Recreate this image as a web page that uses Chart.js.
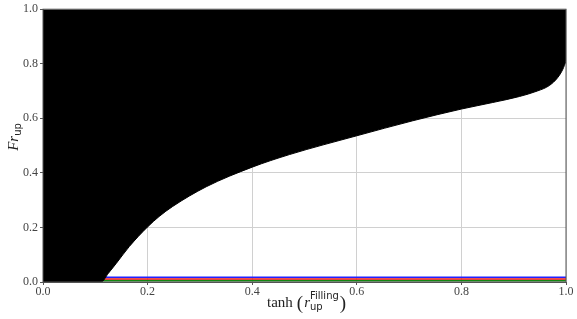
<!DOCTYPE html>
<html>
<head>
<meta charset="utf-8">
<script src="https://cdn.jsdelivr.net/npm/chart.js@4.4.0/dist/chart.umd.min.js"></script>
<style>
html,body{margin:0;padding:0;background:#fff;}
#wrap{width:577px;height:319px;position:relative;}
</style>
</head>
<body>
<div id="wrap"><canvas id="c" width="577" height="319"></canvas></div>
<script>
// Boundary curve (black region lies above it)
const curveX = [0, 0.111, 0.125, 0.14, 0.165, 0.2, 0.222, 0.248, 0.312, 0.4, 0.471, 0.6, 0.707, 0.8, 0.86, 0.911, 0.945, 0.968, 0.984, 0.994, 1.0];
const curveY = [0, 0, 0.032, 0.068, 0.13, 0.202, 0.24, 0.277, 0.349, 0.421, 0.467, 0.536, 0.591, 0.634, 0.658, 0.680, 0.700, 0.720, 0.749, 0.78, 0.81];
// Thin coloured lines near zero
const lineX = [0.111, 1.0];
const blueY = [0.017, 0.017];
const redY = [0.011, 0.011];
const greenY = [0.005, 0.005];
const xTicks = [0.0, 0.2, 0.4, 0.6, 0.8, 1.0];
const yTicks = [0.0, 0.2, 0.4, 0.6, 0.8, 1.0];

const pts = (xs, ys) => xs.map((x, i) => ({x: x, y: ys[i]}));
const SERIF = "'Liberation Serif', 'DejaVu Serif', serif";
const SANS = "'DejaVu Sans', 'Liberation Sans', sans-serif";

const frame = {
  id: 'frame',
  afterDraw(chart) {
    const {ctx, chartArea: a} = chart;
    ctx.save();
    ctx.strokeStyle = '#555';
    ctx.lineWidth = 1;
    ctx.strokeRect(a.left, a.top, a.right - a.left, a.bottom - a.top);
    ctx.restore();
  }
};

function drawRuns(ctx, runs, x, y) {
  let cx = x;
  for (const r of runs) {
    ctx.font = r[1];
    ctx.fillText(r[0], cx, y + r[2]);
    cx += ctx.measureText(r[0]).width + (r[3] || 0);
  }
  return cx - x;
}
function runsWidth(ctx, runs) {
  let w = 0;
  for (const r of runs) { ctx.font = r[1]; w += ctx.measureText(r[0]).width + (r[3] || 0); }
  return w;
}

const titles = {
  id: 'titles',
  afterDraw(chart) {
    const {ctx, chartArea: a} = chart;
    ctx.save();
    ctx.fillStyle = '#222';
    ctx.textBaseline = 'alphabetic';
    // x title
    const xr = [
      ['tanh', '15px ' + SERIF, 0, 4],
      ['(', '19px ' + SERIF, 2, 1],
      ['r', 'italic 15px ' + SERIF, 0, 0],
    ];
    const wx = runsWidth(ctx, xr) + 30 + 8;
    let sx = (a.left + a.right) / 2 - wx / 2 + 3;
    const by = 307;
    const w1 = drawRuns(ctx, xr, sx, by);
    const rx = sx + w1;
    ctx.font = '10px ' + SANS;
    ctx.fillText('Filling', rx, by - 8);
    const wf = ctx.measureText('Filling').width;
    ctx.fillText('up', rx, by + 3);
    ctx.font = '19px ' + SERIF;
    ctx.fillText(')', rx + wf + 1, by + 2);
    // y title
    ctx.translate(18, 137);
    ctx.rotate(-Math.PI / 2);
    const yr = [
      ['Fr', 'italic 15px ' + SERIF, 0, 0],
      ['up', '10px ' + SANS, 3, 0]
    ];
    const wy = runsWidth(ctx, yr);
    drawRuns(ctx, yr, -wy / 2, 0);
    ctx.restore();
  }
};

new Chart(document.getElementById('c'), {
  type: 'scatter',
  data: {
    datasets: [
      {data: pts(curveX, curveY), showLine: true, fill: 'end', backgroundColor: '#000', borderColor: '#000', borderWidth: 1, pointRadius: 0, tension: 0.4, cubicInterpolationMode: 'monotone'},
      {data: pts(lineX, blueY), showLine: true, borderColor: '#2222ff', borderWidth: 1.5, pointRadius: 0, fill: false},
      {data: pts(lineX, redY), showLine: true, borderColor: '#ee1111', borderWidth: 1.5, pointRadius: 0, fill: false},
      {data: pts(lineX, greenY), showLine: true, borderColor: '#118811', borderWidth: 1.8, pointRadius: 0, fill: false}
    ]
  },
  options: {
    responsive: false,
    animation: false,
    events: [],
    layout: {padding: {left: 0, right: 11, top: 8, bottom: 0}},
    plugins: {legend: {display: false}, tooltip: {enabled: false}},
    scales: {
      x: {
        type: 'linear', min: 0, max: 1,
        afterFit(s) { s.height = 37; },
        afterBuildTicks(s) { s.ticks = xTicks.map(v => ({value: v})); },
        grid: {color: '#d0d0d0', lineWidth: 1, tickLength: 3, tickColor: '#555', drawOnChartArea: true},
        border: {color: '#555', width: 1},
        ticks: {color: '#444', font: {family: SERIF, size: 12}, padding: 0, maxRotation: 0, callback: v => v.toFixed(1)}
      },
      y: {
        type: 'linear', min: 0, max: 1,
        afterFit(s) { s.width = 43; },
        afterBuildTicks(s) { s.ticks = yTicks.map(v => ({value: v})); },
        grid: {color: '#d0d0d0', lineWidth: 1, tickLength: 3, tickColor: '#555'},
        border: {color: '#555', width: 1},
        ticks: {color: '#444', font: {family: SERIF, size: 12}, padding: 2, callback: v => v.toFixed(1)}
      }
    }
  },
  plugins: [frame, titles]
});
</script>
</body>
</html>
